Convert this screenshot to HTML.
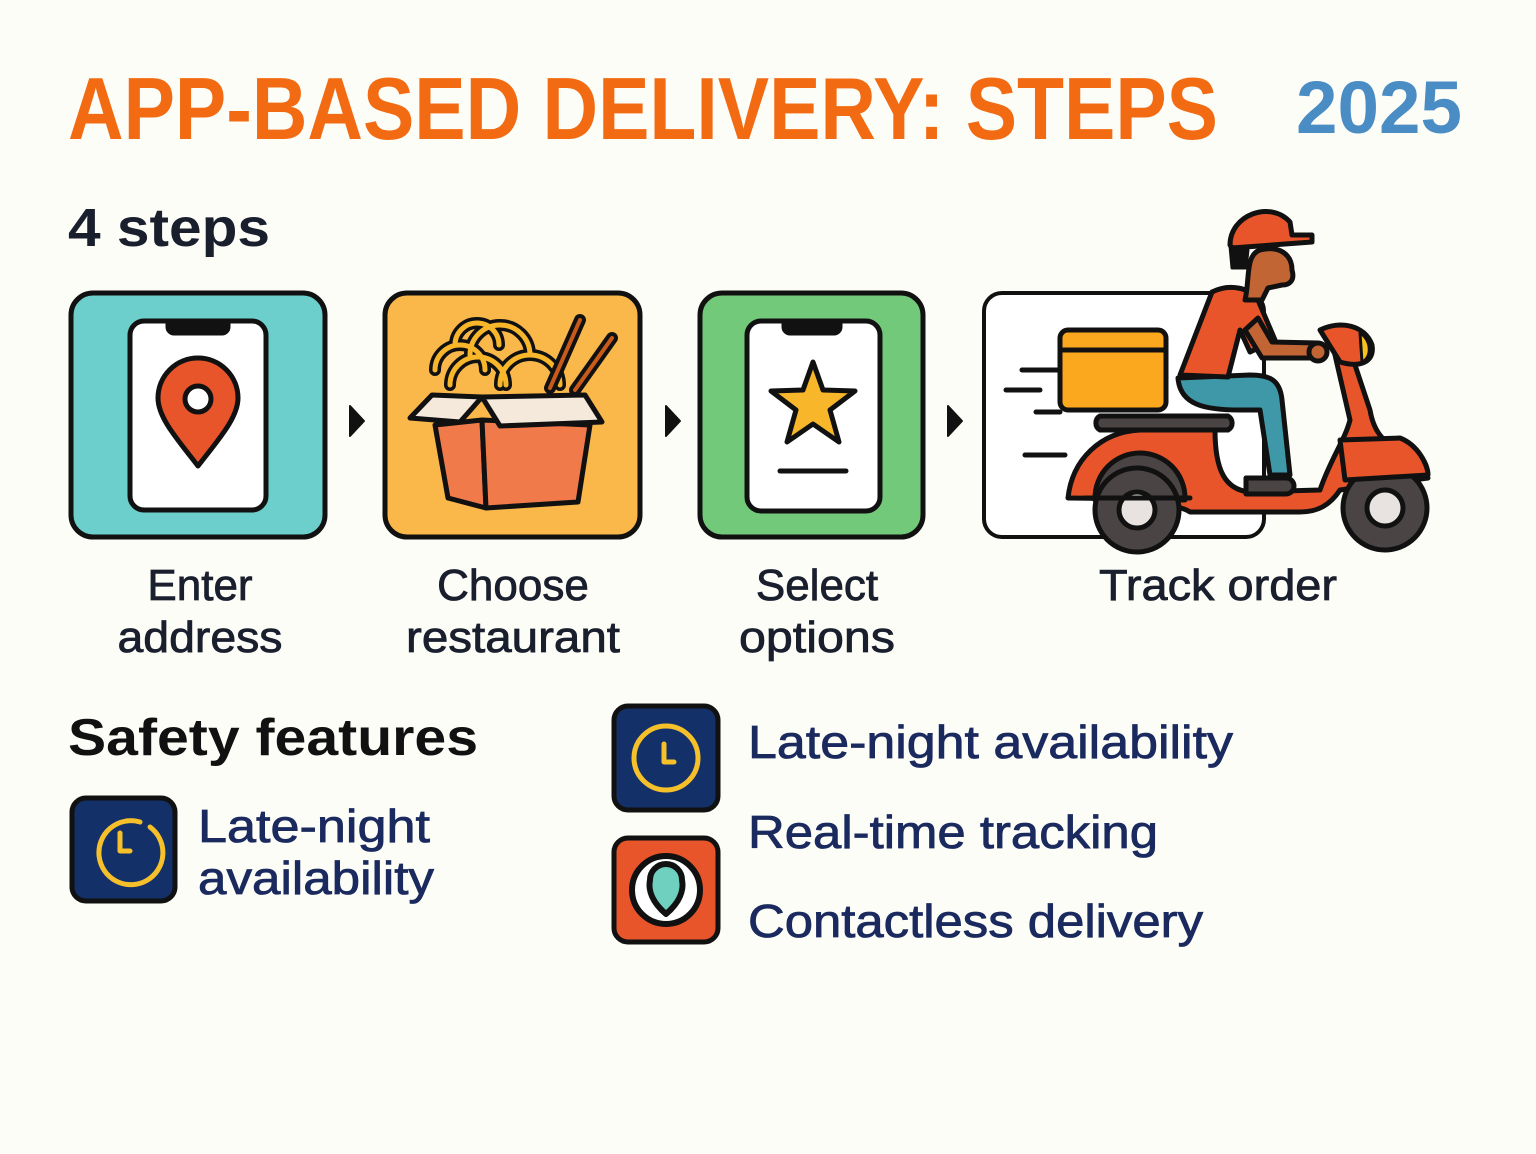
<!DOCTYPE html>
<html><head><meta charset="utf-8"><style>
html,body{margin:0;padding:0;background:#fdfdf8}
svg{display:block}
text{font-family:"Liberation Sans",sans-serif}
</style></head><body>
<svg width="1536" height="1154" viewBox="0 0 1536 1154" xmlns="http://www.w3.org/2000/svg">
<rect width="1536" height="1154" fill="#fdfdf8"/>
<text x="68" y="139" font-size="88" font-weight="bold" fill="#f26b13" textLength="1150" lengthAdjust="spacingAndGlyphs">APP-BASED DELIVERY: STEPS</text>
<text x="1296" y="133" font-size="74" font-weight="bold" fill="#4a8cc4" textLength="166" lengthAdjust="spacingAndGlyphs">2025</text>
<text x="68" y="246" font-size="54" font-weight="bold" fill="#1a1f2e" textLength="202" lengthAdjust="spacingAndGlyphs">4 steps</text>

<g stroke="#111" stroke-width="5" stroke-linejoin="round" stroke-linecap="round">
<rect x="71" y="293" width="254" height="244" rx="22" fill="#6dcfcb"/>
<rect x="130" y="321" width="136" height="189" rx="14" fill="#fff"/>
<path d="M168 321 h60 v6 a6 6 0 0 1 -6 6 h-48 a6 6 0 0 1 -6 -6z" fill="#111"/>
<path d="M198 466 C178 440 158 418 158 398 A40 40 0 0 1 238 398 C238 418 218 440 198 466Z" fill="#e8552a"/>
<circle cx="198" cy="399" r="13" fill="#fff"/>
<rect x="385" y="293" width="255" height="244" rx="22" fill="#fbb84a"/>
<g fill="none" stroke-width="12" stroke="#111">
<path d="M450 385 a28 28 0 0 1 56 0"/><path d="M470 355 a30 30 0 0 1 60 0"/><path d="M435 370 a25 25 0 0 1 50 0"/><path d="M500 385 a30 30 0 0 1 60 0"/><path d="M455 345 a22 22 0 0 1 44 0"/>
</g>
<g fill="none" stroke-width="5" stroke="#f8b72a">
<path d="M450 385 a28 28 0 0 1 56 0"/><path d="M470 355 a30 30 0 0 1 60 0"/><path d="M435 370 a25 25 0 0 1 50 0"/><path d="M500 385 a30 30 0 0 1 60 0"/><path d="M455 345 a22 22 0 0 1 44 0"/>
</g>
<line x1="580" y1="320" x2="550" y2="388" stroke-width="12"/>
<line x1="580" y1="320" x2="550" y2="388" stroke="#c85a1a" stroke-width="4"/>
<line x1="612" y1="338" x2="575" y2="390" stroke-width="12"/>
<line x1="612" y1="338" x2="575" y2="390" stroke="#c85a1a" stroke-width="4"/>
<path d="M435 425 L482 420 L486 508 L448 498Z" fill="#f07a4a"/>
<path d="M482 420 L590 425 L578 502 L486 508Z" fill="#f07a4a"/>
<path d="M410 418 L432 395 L482 397 L460 422Z" fill="#f5e9dc"/>
<path d="M482 397 L585 395 L602 422 L500 426Z" fill="#f5e9dc"/>
<path d="M350 406 L364 421 L350 436Z" fill="#111" stroke-width="2"/>
<path d="M666 406 L680 421 L666 436Z" fill="#111" stroke-width="2"/>
<path d="M948 406 L962 421 L948 436Z" fill="#111" stroke-width="2"/>
<rect x="700" y="293" width="223" height="244" rx="22" fill="#73c97a"/>
<rect x="747" y="321" width="133" height="190" rx="14" fill="#fff"/>
<path d="M784 321 h56 v6 a6 6 0 0 1 -6 6 h-44 a6 6 0 0 1 -6 -6z" fill="#111"/>
<path d="M813 362 L823 390 L855 391 L830 410 L839 442 L813 424 L787 442 L796 410 L771 391 L803 390Z" fill="#f8b72a"/>
<line x1="780" y1="471" x2="846" y2="471"/>
<rect x="984" y="293" width="280" height="244" rx="18" fill="#fff" stroke-width="4"/>
<line x1="1022" y1="370" x2="1058" y2="370"/>
<line x1="1006" y1="390" x2="1040" y2="390"/>
<line x1="1036" y1="412" x2="1060" y2="412"/>
<line x1="1025" y1="455" x2="1065" y2="455"/>
<path d="M1068 498 C1072 460 1100 432 1140 430 L1215 430 C1215 470 1225 490 1250 492 L1320 490 C1330 460 1345 440 1350 420 L1335 355 L1350 350 L1370 410 C1375 440 1390 445 1420 465 L1428 478 L1340 490 C1330 505 1318 512 1300 512 L1190 512 C1180 505 1140 498 1068 498Z" fill="#e8552a"/>
<path d="M1100 416 h128 a8 8 0 0 1 0 14 h-128 a8 8 0 0 1 0 -14z" fill="#4a4444"/>
<rect x="1060" y="330" width="106" height="80" rx="8" fill="#fba81e"/>
<line x1="1062" y1="350" x2="1164" y2="350"/>
<path d="M1095 498 A45 45 0 0 1 1185 498 L1185 500 L1095 500Z" fill="#4a4444"/>
<line x1="1123" y1="487" x2="1172" y2="487"/>
<circle cx="1137" cy="510" r="42" fill="#4a4444"/>
<circle cx="1137" cy="510" r="18" fill="#e8e2e0"/>
<path d="M1085 498 L1190 498" />
<circle cx="1385" cy="508" r="42" fill="#4a4444"/>
<circle cx="1385" cy="508" r="18" fill="#e8e2e0"/>
<path d="M1340 440 L1400 438 C1418 445 1428 465 1428 475 L1345 480Z" fill="#e8552a"/>
<path d="M1320 330 C1340 320 1365 325 1372 345 C1375 362 1360 368 1340 362Z" fill="#e8552a"/>
<path d="M1360 333 C1372 340 1372 358 1362 362Z" fill="#f8c020" stroke-width="3"/>
<path d="M1178 378 C1180 405 1205 410 1240 410 L1260 410 L1270 475 L1290 475 L1282 400 C1280 380 1270 375 1250 375Z" fill="#3f98a8"/>
<path d="M1246 478 h40 a8 8 0 0 1 0 16 h-40z" fill="#4a4444"/>
<path d="M1180 375 L1212 292 C1230 283 1250 288 1258 300 L1275 340 L1250 352 L1240 330 L1228 377Z" fill="#e8552a"/>
<path d="M1245 330 L1262 358 L1318 358 L1318 343 L1272 342 L1258 318Z" fill="#c26534"/>
<circle cx="1318" cy="352" r="9" fill="#c26534"/>
<path d="M1245 300 C1250 280 1245 255 1260 250 C1280 245 1292 255 1292 270 C1295 280 1290 285 1282 285 L1268 288 L1262 300Z" fill="#c26534"/>
<path d="M1230 245 C1230 215 1270 200 1290 222 L1292 235 L1312 235 L1312 242 L1232 248Z" fill="#e8552a"/>
<path d="M1230 246 L1232 268 L1246 268 L1248 250Z" fill="#111" stroke-width="3"/>
<rect x="72" y="798" width="103" height="103" rx="14" fill="#143068"/>
<path d="M150 827 A32 32 0 1 1 140 822" fill="none" stroke="#f6c02a" stroke-width="5"/>
<path d="M120 833 v18 h10" fill="none" stroke="#f6c02a" stroke-width="5"/>
<rect x="614" y="706" width="104" height="104" rx="14" fill="#143068"/>
<circle cx="666" cy="758" r="32" fill="none" stroke="#f6c02a" stroke-width="5"/>
<path d="M664 744 v18 h10" fill="none" stroke="#f6c02a" stroke-width="5"/>
<rect x="614" y="838" width="104" height="104" rx="14" fill="#e8552a"/>
<circle cx="666" cy="890" r="34" fill="#fff" stroke="#111" stroke-width="6"/>
<path d="M666 914 C652 902 648 890 650 880 A16 16 0 0 1 682 880 C684 890 680 902 666 914Z" fill="#6fd0c0" stroke="#111" stroke-width="6"/>
</g>

<g font-size="44" fill="#1a1f2e" stroke="#1a1f2e" stroke-width="0.8" text-anchor="middle">
<text x="200" y="600">Enter</text><text x="200" y="652" textLength="165" lengthAdjust="spacingAndGlyphs">address</text>
<text x="513" y="600">Choose</text><text x="513" y="652" textLength="214" lengthAdjust="spacingAndGlyphs">restaurant</text>
<text x="817" y="600">Select</text><text x="817" y="652" textLength="156" lengthAdjust="spacingAndGlyphs">options</text>
<text x="1218" y="600" textLength="238" lengthAdjust="spacingAndGlyphs">Track order</text>
</g>
<text x="68" y="755" font-size="52" font-weight="bold" fill="#111" textLength="410" lengthAdjust="spacingAndGlyphs">Safety features</text>
<g font-size="46" fill="#1b2a5e" stroke="#1b2a5e" stroke-width="0.8">
<text x="198" y="842" textLength="232" lengthAdjust="spacingAndGlyphs">Late-night</text>
<text x="198" y="894" textLength="236" lengthAdjust="spacingAndGlyphs">availability</text>
<text x="748" y="758" textLength="485" lengthAdjust="spacingAndGlyphs">Late-night availability</text>
<text x="748" y="848" textLength="410" lengthAdjust="spacingAndGlyphs">Real-time tracking</text>
<text x="748" y="937" textLength="455" lengthAdjust="spacingAndGlyphs">Contactless delivery</text>
</g>
</svg>
</body></html>
